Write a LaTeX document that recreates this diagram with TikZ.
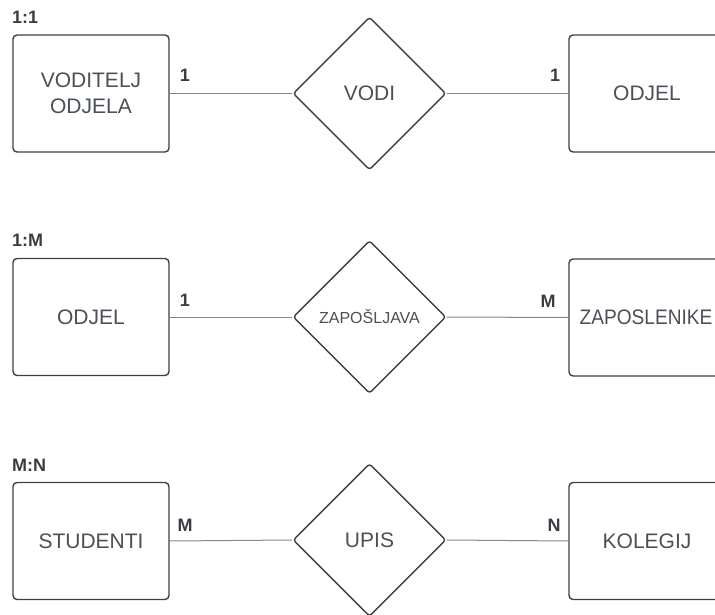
\documentclass[tikz,border=0pt]{standalone}
\usepackage{fontspec}
\setmainfont{Liberation Sans}
\usetikzlibrary{shapes.geometric}
\definecolor{edgecol}{HTML}{3C4045}
\definecolor{txtcol}{HTML}{4A5056}
\definecolor{linecol}{HTML}{85898E}
\definecolor{lblcol}{HTML}{3A3E44}
\tikzset{
  entity/.style={draw=edgecol, line width=1.4pt, rounded corners=4pt, minimum width=156pt, minimum height=117pt, inner sep=0pt, text=txtcol, font=\fontsize{21}{26}\selectfont, align=center},
  relation/.style={draw=edgecol, line width=1.4pt, diamond, rounded corners=3pt, minimum width=153pt, minimum height=153pt, inner sep=0pt, text=txtcol, font=\fontsize{21}{26}\selectfont},
  conn/.style={draw=linecol, line width=1pt},
  card/.style={text=lblcol, font=\bfseries\fontsize{18}{20}\selectfont, inner sep=0pt},
  rowlbl/.style={text=lblcol, font=\bfseries\fontsize{18}{20}\selectfont, inner sep=0pt, anchor=west}
}
\begin{document}
\begin{tikzpicture}[x=1pt, y=-1pt]
\useasboundingbox (0,0) rectangle (715,615);
\clip (0,0) rectangle (715,615);
\fill[white] (0,0) rectangle (715,615);
% Row 1
\node[rowlbl] (r1) at (12,17) {1:1};
\node[entity] (e1a) at (91,93.5) {VODITELJ\\ODJELA};
\node[relation] (d1) at (369.5,93.5) {VODI};
\node[entity] (e1b) at (647,93.5) {ODJEL};
\draw[conn] (e1a.east) -- (d1.west);
\draw[conn] (d1.east) -- (e1b.west);
\node[card] (c1a) at (185,75) {1};
\node[card] (c1b) at (555,75) {1};
% Row 2
\node[rowlbl] (r2) at (12,240) {1:M};
\node[entity] (e2a) at (91,317) {ODJEL};
\node[relation, font=\fontsize{16}{20}\selectfont] (d2) at (369.5,317) {ZAPOŠLJAVA};
\node[entity] (e2b) at (647,317.5) {};
\node[text=txtcol, font=\fontsize{21}{26}\selectfont, inner sep=0pt] (t2b) at (646,317.5) {\scalebox{0.91}[1]{ZAPOSLENIKE}};
\draw[conn] (e2a.east) -- (d2.west);
\draw[conn] (d2.east) -- (e2b.west);
\node[card] (c2a) at (185,300) {1};
\node[card] (c2b) at (548,301) {M};
% Row 3
\node[rowlbl] (r3) at (12,465) {M:N};
\node[entity] (e3a) at (91,541) {STUDENTI};
\node[relation] (d3) at (369.5,540) {UPIS};
\node[entity] (e3b) at (647,541) {KOLEGIJ};
\draw[conn] (e3a.east) -- (d3.west);
\draw[conn] (d3.east) -- (e3b.west);
\node[card] (c3a) at (185,525) {M};
\node[card] (c3b) at (554,525) {N};
\end{tikzpicture}
\end{document}
